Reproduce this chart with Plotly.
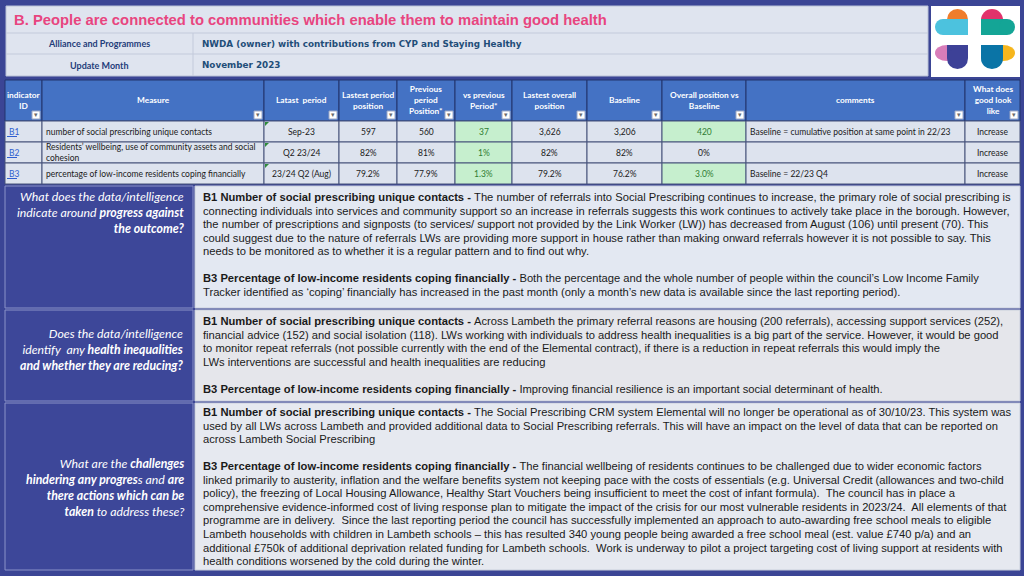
import plotly.graph_objects as go

W, H = 1024, 576

# ---- data -------------------------------------------------------------
title = "B. People are connected to communities which enable them to maintain good health"
meta_labels = ["Alliance and Programmes", "Update Month"]
meta_values = ["NWDA (owner) with contributions from CYP and Staying Healthy", "November 2023"]

headers = ["indicator<br>ID", "Measure", "Latast  period", "Lastest period<br>position",
           "Previous<br>period<br>Position*", "vs previous<br>Period*", "Lastest overall<br>position",
           "Baseline", "Overall position vs<br>Baseline", "comments", "What does<br>good look<br>like"]
ids = ["B1", "B2", "B3"]
measures = ["number of social prescribing unique contacts",
            "Residents’ wellbeing, use of community assets and social<br>cohesion",
            "percentage of low-income residents coping financially"]
latest_period = ["Sep-23", "Q2 23/24", "23/24 Q2 (Aug)"]
latest_position = ["597", "82%", "79.2%"]
previous_position = ["560", "81%", "77.9%"]
vs_previous = ["37", "1%", "1.3%"]
overall_position = ["3,626", "82%", "79.2%"]
baseline = ["3,206", "82%", "76.2%"]
vs_baseline = ["420", "0%", "3.0%"]
comments = ["Baseline = cumulative position at same point in 22/23", "", "Baseline = 22/23 Q4"]
good_looks_like = ["Increase", "Increase", "Increase"]
improved_vs_previous = [True, True, True]
improved_vs_baseline = [True, False, True]

questions = [
    "<i>What does the data/intelligence<br>indicate around <b>progress against<br>the outcome?</b></i>",
    "<i>Does the data/intelligence<br>identify  any <b>health inequalities<br>and whether they are reducing?</b></i>",
    "<i>What are the <b>challenges<br>hindering any progres</b>s and <b>are<br>there actions which can be<br>taken</b> to address these?</i>",
]
answers = [
    ["<b>B1 Number of social prescribing unique contacts - </b>The number of referrals into Social Prescribing continues to increase, the primary role of social prescribing is",
     "connecting individuals into services and community support so an increase in referrals suggests this work continues to actively take place in the borough. However,",
     "the number of prescriptions and signposts (to services/ support not provided by the Link Worker (LW)) has decreased from August (106) until present (70). This",
     "could suggest due to the nature of referrals LWs are providing more support in house rather than making onward referrals however it is not possible to say. This",
     "needs to be monitored as to whether it is a regular pattern and to find out why.",
     "",
     "<b>B3 Percentage of low-income residents coping financially - </b>Both the percentage and the whole number of people within the council’s Low Income Family",
     "Tracker identified as ‘coping’ financially has increased in the past month (only a month’s new data is available since the last reporting period)."],
    ["<b>B1 Number of social prescribing unique contacts - </b>Across Lambeth the primary referral reasons are housing (200 referrals), accessing support services (252),",
     "financial advice (152) and social isolation (118). LWs working with individuals to address health inequalities is a big part of the service. However, it would be good",
     "to monitor repeat referrals (not possible currently with the end of the Elemental contract), if there is a reduction in repeat referrals this would imply the",
     "LWs interventions are successful and health inequalities are reducing",
     "",
     "<b>B3 Percentage of low-income residents coping financially - </b>Improving financial resilience is an important social determinant of health."],
    ["<b>B1 Number of social prescribing unique contacts - </b>The Social Prescribing CRM system Elemental will no longer be operational as of 30/10/23. This system was",
     "used by all LWs across Lambeth and provided additional data to Social Prescribing referrals. This will have an impact on the level of data that can be reported on",
     "across Lambeth Social Prescribing",
     "",
     "<b>B3 Percentage of low-income residents coping financially - </b>The financial wellbeing of residents continues to be challenged due to wider economic factors",
     "linked primarily to austerity, inflation and the welfare benefits system not keeping pace with the costs of essentials (e.g. Universal Credit (allowances and two-child",
     "policy), the freezing of Local Housing Allowance, Healthy Start Vouchers being insufficient to meet the cost of infant formula).  The council has in place a",
     "comprehensive evidence-informed cost of living response plan to mitigate the impact of the crisis for our most vulnerable residents in 2023/24.  All elements of that",
     "programme are in delivery.  Since the last reporting period the council has successfully implemented an approach to auto-awarding free school meals to eligible",
     "Lambeth households with children in Lambeth schools – this has resulted 340 young people being awarded a free school meal (est. value £740 p/a) and an",
     "additional £750k of additional deprivation related funding for Lambeth schools.  Work is underway to pilot a project targeting cost of living support at residents with",
     "health conditions worsened by the cold during the winter."],
]

# ---- layout constants (pixels) -----------------------------------------
BG = '#3b4595'
col_widths = [37, 222, 75, 58, 58, 57, 75, 75, 84, 219, 55]
col_align = ['left', 'left', 'center', 'center', 'center', 'center', 'center', 'center', 'center', 'left', 'center']
TABLE_X0 = 5
row_edges = [80, 121, 142, 163, 184]
sections = [(186, 308), (310, 401), (403, 570)]
section_fills = ['#e3e8f2', '#e5e6eb', '#e6e9f0']
question_mid = [212, 349.5, 487]
answer_first = [197, 321, 412]
LINE = 13.55


def px(x):
    return x / W


def py(y):
    return 1 - y / H


def rect(x0, y0, x1, y1, fill, line=None, width=1, layer='below'):
    return dict(type='rect', xref='paper', yref='paper',
                x0=px(x0), x1=px(x1), y0=py(y1), y1=py(y0),
                fillcolor=fill, line=dict(color=line or fill, width=width if line else 0),
                layer=layer)


def oval(x0, y0, x1, y1, fill):
    return dict(type='circle', xref='paper', yref='paper',
                x0=px(x0), x1=px(x1), y0=py(y1), y1=py(y0),
                fillcolor=fill, line=dict(width=0), layer='above')


def seg(x0, y0, x1, y1, color, width=1):
    return dict(type='line', xref='paper', yref='paper', x0=px(x0), x1=px(x1),
                y0=py(y0), y1=py(y1), line=dict(color=color, width=width))


def label(text, x, y, size, color, family='Liberation Sans', xanchor='left', yanchor='middle', align='left'):
    return dict(text=text, x=px(x), y=py(y), xanchor=xanchor, yanchor=yanchor, align=align,
                xref='paper', yref='paper', showarrow=False,
                font=dict(family=family, size=size, color=color))


shapes = []
annotations = []

# ---- header box ------------------------------------------------------------
shapes.append(rect(6, 6, 928, 76, '#dfe4ef', '#b9c1d6'))
shapes.append(seg(6, 33, 928, 33, '#c3cadb'))
shapes.append(seg(6, 54, 928, 54, '#c3cadb'))
shapes.append(seg(193, 33, 193, 76, '#c3cadb'))
annotations.append(label(f"<b>{title}</b>", 12, 20, 14.8, '#e8457f'))
for i, (lab, val) in enumerate(zip(meta_labels, meta_values)):
    yc = 44 + i * 21
    annotations.append(label(f"<b>{lab}</b>", 99, yc, 9, '#1f3d7a', family='Lato', xanchor='center'))
    annotations.append(label(f"<b>{val}</b>", 200, yc, 8.8, '#1f4e79', family='DejaVu Sans'))

# ---- logo ----------------------------------------------------------------
shapes.append(rect(931, 6, 1020, 77, '#ffffff'))
shapes += [
    oval(947, 9, 968, 30, '#f07d2c'),
    oval(935, 19, 951, 35, '#4cc2de'),
    rect(943, 19, 968, 35, '#4cc2de', layer='above'),
    oval(981, 9, 1003, 31, '#e2336b'),
    rect(981, 19, 1007, 35, '#14a596', layer='above'),
    oval(999, 19, 1015, 35, '#14a596'),
    oval(935, 45, 959, 61, '#d87db9'),
    rect(947, 45, 968, 58, '#3d4197', layer='above'),
    oval(947, 48, 968, 69, '#3d4197'),
    oval(991, 45, 1015, 61, '#f6b61d'),
    rect(981, 45, 1003, 58, '#0a74a6', layer='above'),
    oval(981, 48, 1003, 69, '#0a74a6'),
]

# ---- indicator table -----------------------------------------------------------
GREEN, GREEN_TXT, CELL = '#c6efce', '#2f7d32', '#dde3ee'
columns = [ids, measures, latest_period, latest_position, previous_position, vs_previous,
           overall_position, baseline, vs_baseline, comments, good_looks_like]
fills = [[CELL] * len(ids) for _ in columns]
fonts = [['#1a1a1a'] * len(ids) for _ in columns]
fonts[0] = ['#2e5fd0'] * len(ids)
for r in range(len(ids)):
    if improved_vs_previous[r]:
        fills[5][r], fonts[5][r] = GREEN, GREEN_TXT
    if improved_vs_baseline[r]:
        fills[8][r], fonts[8][r] = GREEN, GREEN_TXT

x_edges = [TABLE_X0]
for w in col_widths:
    x_edges.append(x_edges[-1] + w)

for c, (hdr, col) in enumerate(zip(headers, columns)):
    x0, x1 = x_edges[c], x_edges[c + 1]
    hy0, hy1 = row_edges[0], row_edges[1]
    shapes.append(rect(x0, hy0, x1, hy1, '#4472c4', '#22346c'))
    annotations.append(label(f"<b>{hdr}</b>", (x0 + x1) / 2, (hy0 + hy1) / 2, 8.3, '#ffffff',
                             family='Lato', xanchor='center', align='center'))
    # filter drop-down button
    shapes.append(rect(x1 - 10, hy1 - 10, x1 - 2, hy1 - 2, '#ffffff', '#9aa6c4', layer='above'))
    annotations.append(label('▾', x1 - 6, hy1 - 6, 7, '#6b6b6b', family='DejaVu Sans', xanchor='center'))
    for r, val in enumerate(col):
        y0, y1 = row_edges[r + 1], row_edges[r + 2]
        shapes.append(rect(x0, y0, x1, y1, fills[c][r], '#46527a'))
        if col_align[c] == 'left':
            tx, anchor = x0 + 2, 'left'
        else:
            tx, anchor = (x0 + x1) / 2, 'center'
        annotations.append(label(val, tx, (y0 + y1) / 2, 8.5, fonts[c][r], family='Lato',
                                 xanchor=anchor, align=col_align[c]))
        if c == 0:
            shapes.append(seg(x0 + 2, (y0 + y1) / 2 + 5, x0 + 12, (y0 + y1) / 2 + 5, fonts[c][r]))
        if c == 2:
            # cell comment marker
            shapes.append(dict(type='path', xref='paper', yref='paper', layer='above',
                               path=f"M{px(x0 + 1)},{py(y0 + 1)} L{px(x0 + 5)},{py(y0 + 1)} L{px(x0 + 1)},{py(y0 + 5)} Z",
                               fillcolor='#2e8b3a', line=dict(width=0)))

# ---- commentary sections ----------------------------------------------------------
for (y0, y1), fill, q, lines, qm, first in zip(sections, section_fills, questions, answers,
                                               question_mid, answer_first):
    shapes.append(rect(5, y0, 193, y1, '#3d4799', '#8b93c8'))
    shapes.append(rect(195, y0, 1020, y1, fill, '#c9cfdc'))
    annotations.append(label(q, 186, qm, 12.3, '#ffffff', family='Lato', xanchor='right', align='right'))
    for i, line in enumerate(lines):
        if line:
            annotations.append(label(line, 201, first + i * LINE, 11.2, '#1a1a1a'))

fig = go.Figure()
fig.update_layout(
    width=W, height=H, margin=dict(l=0, r=0, t=0, b=0),
    paper_bgcolor=BG, plot_bgcolor=BG,
    xaxis=dict(visible=False), yaxis=dict(visible=False),
    shapes=shapes, annotations=annotations,
)
fig.write_html("out.html", config={'displayModeBar': False},
               post_script="document.body.style.margin='0px';")
